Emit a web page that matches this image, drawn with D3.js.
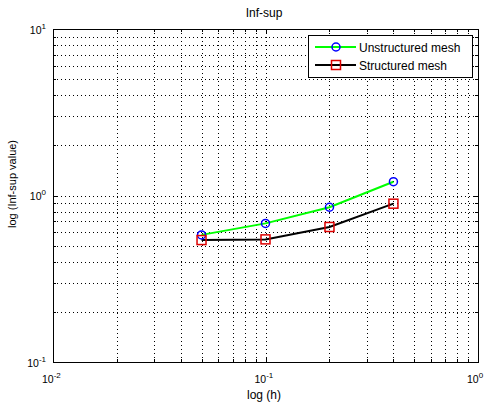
<!DOCTYPE html>
<html>
<head>
<meta charset="utf-8">
<script src="https://cdn.jsdelivr.net/npm/d3@7"></script>
<style>
  body { margin: 0; background: #fff; }
  text { font-family: "Liberation Sans", Arial, sans-serif; fill: #000; }
</style>
</head>
<body>
<svg width="487" height="407"></svg>
<script>
// данные графика
const hValues = [0.05, 0.1, 0.2, 0.4];
const unstructured = [0.58, 0.68, 0.85, 1.21];
const structured = [0.54, 0.545, 0.647, 0.893];
const seriesNames = ['Unstructured mesh', 'Structured mesh'];
const xDomain = [0.01, 1];
const yDomain = [0.1, 10];
const xTickExp = [-2, -1, 0];
const yTickExp = [-1, 0, 1];

const svg = d3.select('svg');
const axLeft = 53, axRight = 478, axTop = 29, axBottom = 362;

const scaleX = d3.scaleLog().domain(xDomain).range([axLeft, axRight]);
const scaleY = d3.scaleLog().domain(yDomain).range([axBottom, axTop]);

// все значения сетки: основные и промежуточные
function logTicks(domain) {
    const res = [];
    for (let e = Math.log10(domain[0]); e < Math.log10(domain[1]); e++) {
        for (let k = 1; k <= 9; k++) res.push({ v: k * Math.pow(10, e), major: k === 1 });
    }
    res.push({ v: domain[1], major: true });
    return res;
}
const xt = logTicks(xDomain);
const yt = logTicks(yDomain);

// сетка (пунктир)
const grid = svg.append('g');
grid.selectAll('.gx').data(xt.filter(d => d.v > xDomain[0] * 1.001 && d.v < xDomain[1] * 0.999)).enter()
    .append('line')
    .attr('x1', d => Math.round(scaleX(d.v)) + 0.5).attr('x2', d => Math.round(scaleX(d.v)) + 0.5)
    .attr('y1', axTop).attr('y2', axBottom)
    .attr('stroke', '#000').attr('stroke-width', 1).attr('stroke-dasharray', '1,3');
grid.selectAll('.gy').data(yt.filter(d => d.v > yDomain[0] * 1.001 && d.v < yDomain[1] * 0.999)).enter()
    .append('line')
    .attr('y1', d => Math.round(scaleY(d.v)) + 0.5).attr('y2', d => Math.round(scaleY(d.v)) + 0.5)
    .attr('x1', axLeft).attr('x2', axRight)
    .attr('stroke', '#000').attr('stroke-width', 1).attr('stroke-dasharray', '1,3');

// засечки внутрь на всех четырех сторонах
const ticks = svg.append('g').attr('stroke', '#000').attr('stroke-width', 1);
xt.forEach(d => {
    const x = Math.round(scaleX(d.v)) + 0.5;
    const len = d.major ? 5 : 3;
    ticks.append('line').attr('x1', x).attr('x2', x).attr('y1', axBottom).attr('y2', axBottom - len);
    ticks.append('line').attr('x1', x).attr('x2', x).attr('y1', axTop).attr('y2', axTop + len);
});
yt.forEach(d => {
    const y = Math.round(scaleY(d.v)) + 0.5;
    const len = d.major ? 5 : 3;
    ticks.append('line').attr('y1', y).attr('y2', y).attr('x1', axLeft).attr('x2', axLeft + len);
    ticks.append('line').attr('y1', y).attr('y2', y).attr('x1', axRight).attr('x2', axRight - len);
});

// рамка осей
svg.append('rect')
    .attr('x', axLeft + 0.5).attr('y', axTop + 0.5)
    .attr('width', axRight - axLeft).attr('height', axBottom - axTop)
    .attr('fill', 'none').attr('stroke', '#000').attr('stroke-width', 1);

// подписи делений вида 10^n
function powLabel(g, x, y, e, anchor) {
    const t = g.append('text').attr('x', x).attr('y', y)
        .attr('text-anchor', anchor).style('font-size', '10.5px');
    t.append('tspan').text('10');
    t.append('tspan').attr('dy', -5).style('font-size', '8px').text(e);
}
const labels = svg.append('g');
xTickExp.forEach(e => powLabel(labels, scaleX(Math.pow(10, e)) - 11, axBottom + 21, e, 'start'));
yTickExp.forEach(e => powLabel(labels, axLeft - 7, scaleY(Math.pow(10, e)) + 4.5, e, 'end'));

// подписи осей и заголовок
svg.append('text').attr('x', 264).attr('y', 17).attr('text-anchor', 'middle')
    .style('font-size', '12px').text('Inf-sup');
svg.append('text').attr('x', 264).attr('y', 399).attr('text-anchor', 'middle')
    .style('font-size', '12px').text('log (h)');
svg.append('text')
    .attr('transform', 'translate(16, 184) rotate(-90)')
    .attr('text-anchor', 'middle').style('font-size', '11px').text('log (Inf-sup value)');

// линии серий
const line = d3.line().x((d, i) => scaleX(hValues[i])).y(d => scaleY(d));
svg.append('path').datum(unstructured).attr('d', line)
    .attr('fill', 'none').attr('stroke', '#00ff00').attr('stroke-width', 2);
svg.append('path').datum(structured).attr('d', line)
    .attr('fill', 'none').attr('stroke', '#000').attr('stroke-width', 2);

// маркеры
svg.selectAll('.circ').data(unstructured).enter().append('circle')
    .attr('cx', (d, i) => scaleX(hValues[i])).attr('cy', d => scaleY(d)).attr('r', 4)
    .attr('fill', 'none').attr('stroke', '#0000ff').attr('stroke-width', 1.5);
const sq = 9;
svg.selectAll('.sq').data(structured).enter().append('rect')
    .attr('x', (d, i) => scaleX(hValues[i]) - sq / 2).attr('y', d => scaleY(d) - sq / 2)
    .attr('width', sq).attr('height', sq)
    .attr('fill', 'none').attr('stroke', '#dd0000').attr('stroke-width', 1.5);

// легенда
const lg = svg.append('g');
lg.append('rect').attr('x', 308.5).attr('y', 35.5).attr('width', 164).attr('height', 42)
    .attr('fill', '#fff').attr('stroke', '#000').attr('stroke-width', 1);
const rows = [
    { name: seriesNames[0], color: '#00ff00', marker: 'circle', y: 47 },
    { name: seriesNames[1], color: '#000', marker: 'square', y: 65 }
];
rows.forEach(r => {
    lg.append('line').attr('x1', 315).attr('x2', 356).attr('y1', r.y).attr('y2', r.y)
        .attr('stroke', r.color).attr('stroke-width', 2);
    if (r.marker === 'circle') {
        lg.append('circle').attr('cx', 336).attr('cy', r.y).attr('r', 4)
            .attr('fill', 'none').attr('stroke', '#0000ff').attr('stroke-width', 1.5);
    } else {
        lg.append('rect').attr('x', 336 - sq / 2).attr('y', r.y - sq / 2).attr('width', sq).attr('height', sq)
            .attr('fill', 'none').attr('stroke', '#dd0000').attr('stroke-width', 1.5);
    }
    lg.append('text').attr('x', 359).attr('y', r.y + 4.5).style('font-size', '12px').text(r.name);
});
</script>
</body>
</html>
